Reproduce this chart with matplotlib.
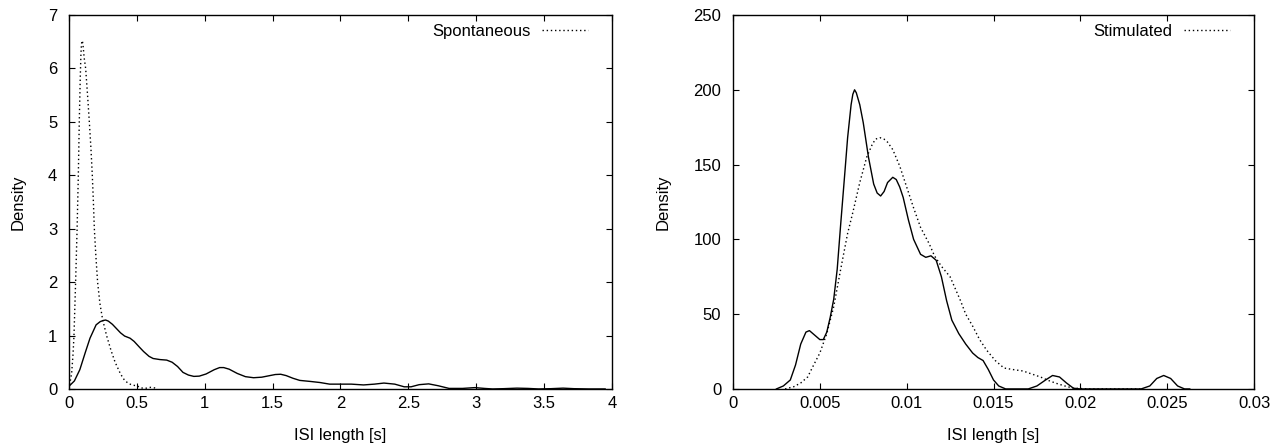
#%%
"1|IMPORT PACKAGES"
import numpy             as np
import matplotlib
matplotlib.use("Agg")
import matplotlib.pyplot as plt

plt.rcParams['font.family'] = ['Liberation Sans', 'DejaVu Sans']
plt.rcParams['font.size']   = 12

#%%
"2|DATA (read off the reference)"
# Left panel: solid density curve (no legend entry)
spont_all_x = [0.0, 0.04, 0.08, 0.12, 0.155, 0.2, 0.23, 0.25, 0.27, 0.29, 0.32,
               0.35, 0.38, 0.41, 0.45, 0.48, 0.52, 0.55, 0.59, 0.62, 0.67, 0.72,
               0.76, 0.8, 0.84, 0.88, 0.92, 0.96, 1.01, 1.07, 1.11, 1.14, 1.18,
               1.24, 1.3, 1.36, 1.42, 1.48, 1.52, 1.56, 1.6, 1.65, 1.7, 1.78,
               1.85, 1.92, 2.0, 2.08, 2.17, 2.25, 2.32, 2.4, 2.47, 2.52, 2.58,
               2.65, 2.72, 2.8, 2.9, 2.99, 3.06, 3.12, 3.2, 3.3, 3.38, 3.46,
               3.55, 3.64, 3.72, 3.83, 3.95]
spont_all_y = [0.05, 0.15, 0.36, 0.68, 0.95, 1.2, 1.26, 1.28, 1.29, 1.27, 1.21,
               1.13, 1.05, 0.99, 0.95, 0.89, 0.78, 0.70, 0.61, 0.57, 0.55, 0.54,
               0.50, 0.42, 0.31, 0.26, 0.235, 0.24, 0.28, 0.36, 0.40, 0.40, 0.37,
               0.29, 0.23, 0.21, 0.22, 0.25, 0.27, 0.275, 0.25, 0.20, 0.16, 0.14,
               0.12, 0.09, 0.09, 0.09, 0.075, 0.09, 0.11, 0.09, 0.04, 0.04, 0.08,
               0.095, 0.06, 0.01, 0.01, 0.025, 0.01, 0.0, 0.005, 0.015, 0.01, 0.0,
               0.005, 0.015, 0.005, 0.0, 0.0]

# Left panel: dotted "Spontaneous" curve
spont_x = [0.0, 0.02, 0.03, 0.037, 0.049, 0.06, 0.069, 0.076, 0.083, 0.088,
           0.092, 0.096, 0.1, 0.105, 0.112, 0.123, 0.137, 0.15, 0.162, 0.172,
           0.18, 0.187, 0.198, 0.211, 0.228, 0.248, 0.277, 0.31, 0.34, 0.38,
           0.41, 0.44, 0.47, 0.5, 0.53, 0.56, 0.6, 0.63, 0.65]
spont_y = [0.0, 0.3, 0.65, 1.0, 2.0, 3.0, 4.0, 5.0, 5.8, 6.25,
           6.45, 6.52, 6.5, 6.4, 6.2, 6.0, 5.5, 5.0, 4.5, 4.0,
           3.5, 3.0, 2.5, 2.0, 1.6, 1.3, 1.0, 0.72, 0.5, 0.28,
           0.16, 0.1, 0.07, 0.06, 0.02, 0.01, 0.03, 0.02, 0.0]

# Right panel: solid density curve (no legend entry)
stim_all_x = [0.0025, 0.0029, 0.0033, 0.0036, 0.0039, 0.0042, 0.0044, 0.0047,
              0.0050, 0.0052, 0.0054, 0.0056, 0.0058, 0.0060, 0.0062, 0.00645,
              0.0066, 0.0068, 0.0069, 0.0070, 0.0071, 0.0073, 0.0075, 0.0078,
              0.0081, 0.0083, 0.0085, 0.0087, 0.0089, 0.0092, 0.0094, 0.0096,
              0.0098, 0.0101, 0.0104, 0.0108, 0.0111, 0.0114, 0.0117, 0.0120,
              0.0123, 0.0126, 0.0130, 0.0134, 0.0138, 0.0141, 0.0144, 0.0147,
              0.0150, 0.0153, 0.0157, 0.0170, 0.0175, 0.0180, 0.0184, 0.0188,
              0.0192, 0.0196, 0.0200, 0.0235, 0.0240, 0.0244, 0.0248, 0.0252,
              0.0256, 0.0260, 0.0263]
stim_all_y = [0, 2, 6, 16, 30, 38, 39, 36,
              33, 33, 38, 48, 60, 80, 110, 146,
              168, 190, 197, 200, 198, 190, 178, 155,
              137, 131, 129, 132, 138, 141.5, 140, 135,
              128, 113, 100, 90, 88, 89, 86, 75,
              59, 46, 37, 30, 24, 21, 19, 13,
              6, 2, 0, 0, 2, 6, 9, 8,
              4, 0.5, 0, 0, 2, 7, 9, 7,
              2, 0, 0]

# Right panel: dotted "Stimulated" curve
stim_x = [0.0030, 0.0035, 0.0039, 0.0043, 0.0046, 0.0050, 0.0054, 0.0058,
          0.0062, 0.0066, 0.0069, 0.0073, 0.0077, 0.0080, 0.0082, 0.00846,
          0.0087, 0.0089, 0.0092, 0.0096, 0.0100, 0.0104, 0.0108, 0.0113,
          0.0116, 0.0120, 0.0125, 0.0128, 0.0131, 0.0134, 0.0138, 0.0142,
          0.0146, 0.0151, 0.0156, 0.0161, 0.0167, 0.0172, 0.0177, 0.0182,
          0.0186, 0.0191, 0.0196, 0.0205, 0.0236]
stim_y = [0, 1.5, 4, 8, 15, 24, 37, 55,
          80, 104, 118, 138, 155, 163, 167, 168,
          167, 165, 160, 149, 135, 121, 108, 97,
          89, 82, 75, 67, 59, 50, 42, 33,
          26, 19, 14, 13, 12, 10, 8, 5.5,
          3.8, 2, 0.5, 0, 0]

# Axis ticks
left_xticks  = [0, 0.5, 1, 1.5, 2, 2.5, 3, 3.5, 4]
left_yticks  = [0, 1, 2, 3, 4, 5, 6, 7]
right_xticks = [0, 0.005, 0.01, 0.015, 0.02, 0.025, 0.03]
right_yticks = [0, 50, 100, 150, 200, 250]

#%%
"3|PLOT"
fig = plt.figure(figsize=(12.77, 4.44), dpi=100)
ax1 = fig.add_axes([0.054, 0.124, 0.4252, 0.8422])
ax2 = fig.add_axes([0.574, 0.124, 0.408, 0.8422])

dots = (0, (1, 2))

def style(ax, xt, yt, xlim, ylim):
    ax.set_xlim(xlim)
    ax.set_ylim(ylim)
    ax.set_xticks(xt)
    ax.set_yticks(yt)
    ax.set_xticklabels([f"{v:g}" for v in xt])
    ax.set_yticklabels([f"{v:g}" for v in yt])
    ax.tick_params(direction="in", length=4.5, width=0.8, top=True, right=True,
                   labelsize=12, pad=5)
    ax.tick_params(axis="y", pad=8.5)
    for s in ax.spines.values():
        s.set_linewidth(1.0)
    ax.set_xlabel("ISI length [s]", labelpad=12)
    ax.set_ylabel("Density", labelpad=16)

ax1.plot(spont_all_x, spont_all_y, "k-", lw=1.0)
ax1.plot(spont_x, spont_y, color="k", lw=1.0, ls=dots, label="Spontaneous")
style(ax1, left_xticks, left_yticks, (0, 4), (0, 7))

ax2.plot(stim_all_x, stim_all_y, "k-", lw=1.0)
ax2.plot(stim_x, stim_y, color="k", lw=1.0, ls=dots, label="Stimulated")
style(ax2, right_xticks, right_yticks, (0, 0.03), (0, 250))

ax1.legend(loc="upper right", bbox_to_anchor=(0.968, 0.995), frameon=False,
           markerfirst=False, handlelength=2.75, handletextpad=0.7,
           borderaxespad=0.0, fontsize=12)
ax2.legend(loc="upper right", bbox_to_anchor=(0.967, 0.995), frameon=False,
           markerfirst=False, handlelength=2.75, handletextpad=0.7,
           borderaxespad=0.0, fontsize=12)

plt.savefig("out.png", dpi=100)
